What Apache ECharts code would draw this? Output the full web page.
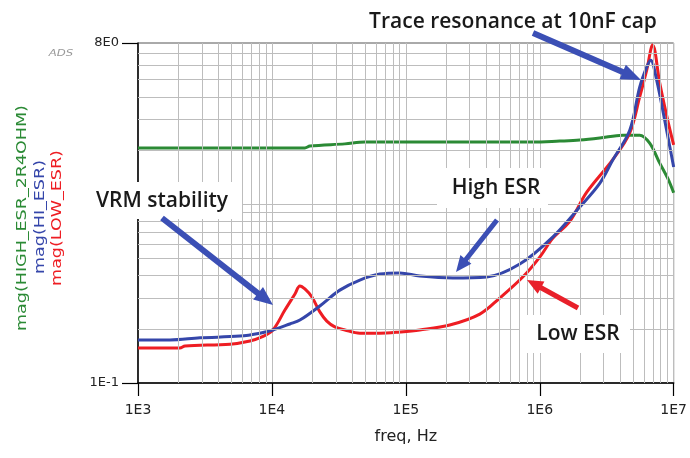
<!DOCTYPE html>
<html><head><meta charset="utf-8">
<script src="https://cdn.jsdelivr.net/npm/echarts@6/dist/echarts.min.js"></script>
<style>html,body{margin:0;padding:0;background:#fff}#c{width:690px;height:458px}</style>
</head><body><div id="c"></div>
<script>
// ---- data ----
const freqHi = [1000, 1733, 2904, 5768, 8128, 10160, 13614, 16180, 22800, 32140, 45350, 63970, 90200, 127100, 224200, 402000, 709200, 1250000, 1990000, 2805000, 3508000, 4700000, 5576000, 6290000, 6735000, 7465000, 8570000, 10000000];
const magHi  = [0.174, 0.174, 0.179, 0.183, 0.19, 0.198, 0.214, 0.225, 0.27, 0.331, 0.377, 0.407, 0.413, 0.397, 0.387, 0.392, 0.463, 0.656, 0.966, 1.31, 1.77, 2.60, 4.53, 5.86, 6.41, 4.96, 2.96, 1.62];

const freqLo = [1000, 2055, 2244, 4864, 6857, 8420, 10160, 12500, 14860, 16180, 17630, 19890, 22800, 25700, 29510, 35060, 45350, 63970, 90200, 127100, 212900, 356700, 502400, 746500, 1000000, 1250000, 1675000, 2244000, 3508000, 4700000, 5576000, 6290000, 6966000, 7870000, 9021000, 10000000];
const magLo  = [0.157, 0.157, 0.161, 0.165, 0.172, 0.181, 0.198, 0.256, 0.315, 0.349, 0.336, 0.303, 0.25, 0.222, 0.206, 0.198, 0.19, 0.19, 0.193, 0.198, 0.211, 0.243, 0.299, 0.392, 0.507, 0.645, 0.803, 1.17, 1.78, 2.51, 3.99, 5.64, 7.79, 4.77, 2.96, 2.15];

const freqGr = [1000, 17630, 19220, 35060, 49430, 887000, 1409000, 1990000, 2805000, 4159000, 5576000, 6621000, 7870000, 9021000, 10000000];
const magGr  = [2.07, 2.07, 2.12, 2.18, 2.23, 2.23, 2.26, 2.29, 2.35, 2.44, 2.44, 2.20, 1.70, 1.40, 1.16];

const xTickLabels = ['1E3', '1E4', '1E5', '1E6', '1E7'];
const yTickValues = [0.1, 8];
const yTickLabels = ['1E-1', '8E0'];
const xGridValues = [2e3,3e3,4e3,5e3,6e3,7e3,8e3,9e3, 2e4,3e4,4e4,5e4,6e4,7e4,8e4,9e4, 2e5,3e5,4e5,5e5,6e5,7e5,8e5,9e5, 2e6,3e6,4e6,5e6,6e6,7e6,8e6,9e6];
const yGridValues = [0.2,0.3,0.4,0.5,0.6,0.7,0.8,0.9,1,2,3,4,5,6,7];

const seriesNames = ['mag(HIGH_ESR_2R4OHM)', 'mag(HI_ESR)', 'mag(LOW_ESR)'];
const colors = ['#2b8a35', '#3546aa', '#ee1d23'];

function pairs(xs, ys){ return xs.map((x,i)=>[x, ys[i]]); }

function arrowPts(x1,y1,x2,y2,w,hl,hw){
  const dx=x2-x1, dy=y2-y1, L=Math.hypot(dx,dy), ux=dx/L, uy=dy/L, px=-uy, py=ux;
  const bx=x2-ux*hl, by=y2-uy*hl;
  return [[x1+px*w/2,y1+py*w/2],[bx+px*w/2,by+py*w/2],[bx+px*hw/2,by+py*hw/2],[x2,y2],[bx-px*hw/2,by-py*hw/2],[bx-px*w/2,by-py*w/2],[x1-px*w/2,y1-py*w/2]];
}
function arrow(x1,y1,x2,y2,color,w,hl,hw){
  return {type:'polygon', z:120, silent:true, shape:{points:arrowPts(x1,y1,x2,y2,w,hl,hw)}, style:{fill:color}};
}
const annFont = {fontFamily:'Open Sans', fontSize:21, fontWeight:600, fill:'#1a1a1a', align:'center', verticalAlign:'middle'};
function annText(t,x,y){ return {type:'text', z:115, silent:true, x:x, y:y, style:Object.assign({text:t}, annFont)}; }
function box(x,y,w,h){ return {type:'rect', z:110, silent:true, shape:{x:x,y:y,width:w,height:h}, style:{fill:'#fff'}}; }
function yName(t,x,y,color){
  return {type:'text', z:115, silent:true, x:x, y:y, rotation:Math.PI/2, scaleX:1.25,
    style:{text:t, fontFamily:'DejaVu Sans', fontSize:14, fill:color, align:'center', verticalAlign:'middle'}};
}

const chart = echarts.init(document.getElementById('c'), null, {renderer:'canvas'});
const lineBase = {type:'line', showSymbol:false, symbol:'none', smooth:0.35, animation:false, emphasis:{disabled:true}, z:3};

chart.setOption({
  backgroundColor:'#fff',
  animation:false,
  grid:{left:138, top:43, width:536, height:340, show:true, borderColor:'#555', borderWidth:1, backgroundColor:'transparent'},
  xAxis:{type:'log', logBase:10, min:1000, max:1e7,
    axisLine:{lineStyle:{color:'#000', width:1.5}},
    axisTick:{length:13, lineStyle:{color:'#000', width:1.2}},
    axisLabel:{formatter:(v)=>xTickLabels[Math.round(Math.log10(v))-3], fontFamily:'DejaVu Sans', fontSize:14, color:'#222', margin:20},
    splitLine:{show:true, lineStyle:{color:'#bdbdbd', width:1}},
    name:'freq, Hz', nameLocation:'middle', nameGap:46,
    nameTextStyle:{fontFamily:'DejaVu Sans', fontSize:16, color:'#222'}},
  yAxis:{type:'log', logBase:10, min:0.1, max:8,
    axisLine:{show:true, lineStyle:{color:'#000', width:1.5}},
    axisTick:{show:true, length:16, customValues:yTickValues, lineStyle:{color:'#000', width:1.2}},
    axisLabel:{customValues:yTickValues, formatter:(v)=>{const i=yTickValues.findIndex(t=>Math.abs(t-v)/t<1e-6); return i>=0?yTickLabels[i]:'';},
      fontFamily:'DejaVu Sans', fontSize:13, color:'#222', margin:19, verticalAlign:'middle', padding:[7,0,0,0]},
    splitLine:{show:false}},
  series:[
    {type:'line', data:[], silent:true, z:1,
      markLine:{silent:true, symbol:'none', animation:false, label:{show:false}, emphasis:{disabled:true},
        lineStyle:{color:'#bdbdbd', width:1, type:'solid'},
        data:[...xGridValues.map(v=>({xAxis:v})), ...yGridValues.map(v=>({yAxis:v}))]}},
    Object.assign({}, lineBase, {name:seriesNames[0], data:pairs(freqGr, magGr), lineStyle:{color:colors[0], width:3}, itemStyle:{color:colors[0]}}),
    Object.assign({}, lineBase, {name:seriesNames[2], data:pairs(freqLo, magLo), lineStyle:{color:colors[2], width:3}, itemStyle:{color:colors[2]}}),
    Object.assign({}, lineBase, {name:seriesNames[1], data:pairs(freqHi, magHi), lineStyle:{color:colors[1], width:3}, itemStyle:{color:colors[1]}})
  ],
  graphic:[
    yName(seriesNames[0], 22, 218, colors[0]),
    yName(seriesNames[1], 40, 217, colors[1]),
    yName(seriesNames[2], 57, 218, colors[2]),
    {type:'text', z:115, silent:true, x:61, y:54, scaleX:1.3, style:{text:'ADS', fontFamily:'DejaVu Sans', fontStyle:'italic', fontSize:9, fill:'#999', align:'center', verticalAlign:'middle'}},
    box(88,182,154,37),
    box(437,168,111,40),
    box(520,315,110,38),
    annText('Trace resonance at 10nF cap', 513, 22),
    annText('VRM stability', 162, 201),
    annText('High ESR', 496, 188),
    annText('Low ESR', 578, 334),
    arrow(533,33,641,80,'#3b4fb5',6,20,16),
    arrow(162,218,273,305,'#3b4fb5',6,19,16),
    arrow(497,220,456,272,'#3b4fb5',5,16,14),
    arrow(578,308,527,280,'#e8202a',5,16,14)
  ]
});
</script></body></html>
